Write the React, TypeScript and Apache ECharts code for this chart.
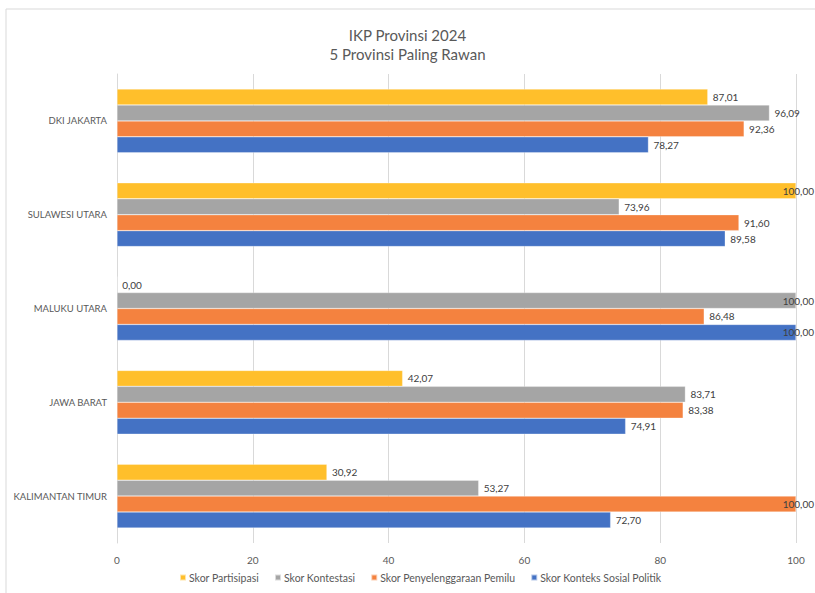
import React, { useEffect, useRef } from "react";
import * as echarts from "echarts";

const categories = ["DKI JAKARTA", "SULAWESI UTARA", "MALUKU UTARA", "JAWA BARAT", "KALIMANTAN TIMUR"];
const seriesNames = ["Skor Partisipasi", "Skor Kontestasi", "Skor Penyelenggaraan Pemilu", "Skor Konteks Sosial Politik"];
const partisipasi = [87.01, 100.0, 0.0, 42.07, 30.92];
const kontestasi = [96.09, 73.96, 100.0, 83.71, 53.27];
const penyelenggaraan = [92.36, 91.6, 86.48, 83.38, 100.0];
const kontekssosial = [78.27, 89.58, 100.0, 74.91, 72.7];
const xTicks = [0, 20, 40, 60, 80, 100];
const colors = ["#FFBF2B", "#A5A5A5", "#F4823F", "#4472C4"];

const fmt = (v: number) => v.toFixed(2).replace(".", ",");

export default function App() {
  const ref = useRef<HTMLDivElement>(null);
  useEffect(() => {
    if (!ref.current) return;
    const chart = echarts.init(ref.current, null, { renderer: "svg" });
    const fontFamily = "Lato, 'Open Sans', sans-serif";
    const allSeries = [partisipasi, kontestasi, penyelenggaraan, kontekssosial];
    const xMax = xTicks[xTicks.length - 1];
    chart.setOption({
      animation: false,
      backgroundColor: "#ffffff",
      textStyle: { fontFamily },
      graphic: [
        {
          type: "rect",
          shape: { x: 6, y: 9, width: 900, height: 700 },
          style: { fill: "none", stroke: "#d9d9d9", lineWidth: 1 },
          silent: true,
        },
      ],
      title: {
        text: "IKP Provinsi 2024\n5 Provinsi Paling Rawan",
        left: "center",
        top: 20,
        textStyle: { fontSize: 15, fontWeight: "normal", color: "#595959", lineHeight: 19, fontFamily },
      },
      legend: {
        data: seriesNames,
        bottom: 5,
        left: 174,
        icon: "rect",
        itemWidth: 6,
        itemHeight: 6,
        itemGap: 15,
        textStyle: { fontSize: 10.5, color: "#595959", fontFamily, padding: [0, 0, 0, -2] },
      },
      grid: { left: 117, right: 19, top: 74, bottom: 50, containLabel: false },
      xAxis: {
        type: "value",
        min: 0,
        max: xMax,
        interval: 20,
        axisLabel: { fontSize: 10, color: "#595959", margin: 12, fontFamily },
        splitLine: { lineStyle: { color: "#d9d9d9" } },
        axisLine: { show: false },
        axisTick: { show: false },
      },
      yAxis: {
        type: "category",
        data: categories,
        inverse: true,
        axisLabel: { fontSize: 9.5, color: "#595959", margin: 10, fontFamily },
        axisLine: { show: true, lineStyle: { color: "#d9d9d9" } },
        axisTick: { show: false },
      },
      series: allSeries.map((vals, i) => ({
        name: seriesNames[i],
        type: "bar",
        barGap: "0%",
        barCategoryGap: "32%",
        itemStyle: { color: colors[i], borderColor: "rgba(255,255,255,0.6)", borderWidth: 0.5 },
        label: {
          show: true,
          position: "right",
          distance: 5,
          fontSize: 10,
          color: "#404040",
          fontFamily,
          formatter: (p: any) => fmt(p.value),
        },
        data: vals.map((v) =>
          v >= xMax
            ? { value: v, label: { position: "insideRight", offset: [23, 0] } }
            : { value: v }
        ),
      })),
    });
    return () => chart.dispose();
  }, []);
  return <div ref={ref} style={{ position: "fixed", left: 0, top: 0, width: 815, height: 593 }} />;
}
